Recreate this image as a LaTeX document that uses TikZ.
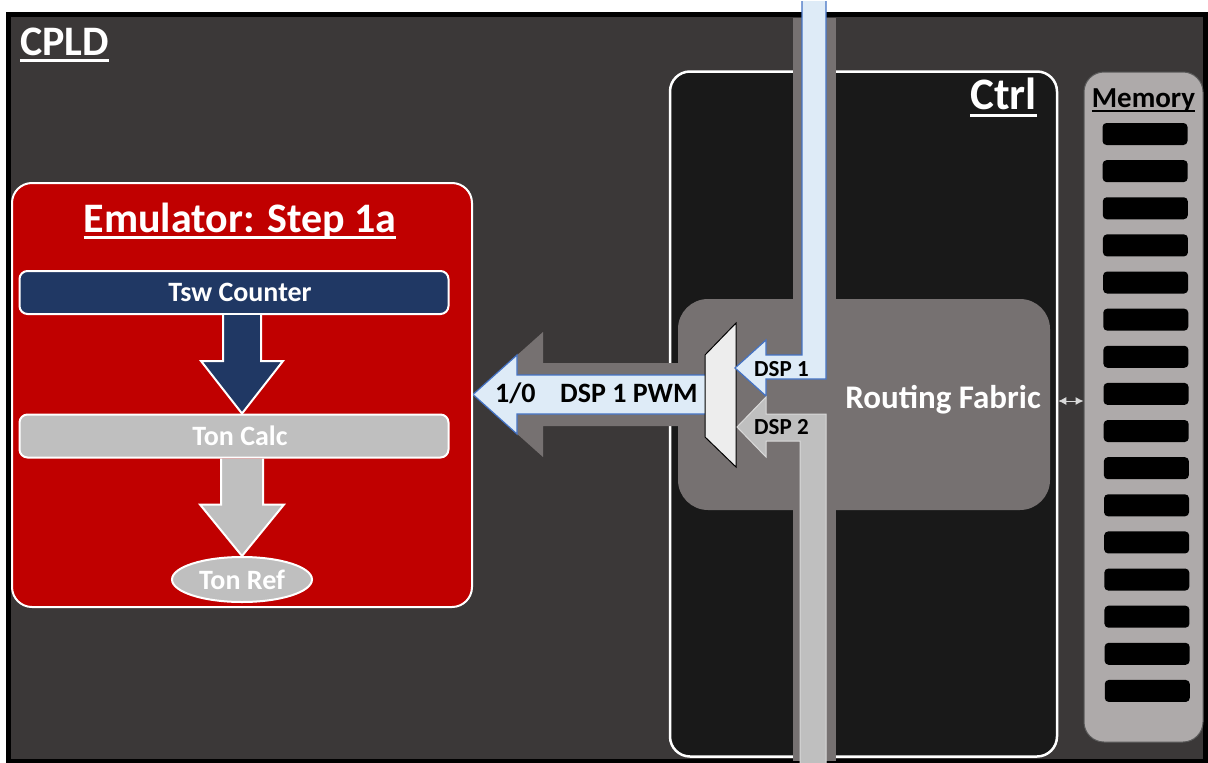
\documentclass[tikz,border=0pt]{standalone}
\usepackage{fontspec}
\setmainfont{Carlito}
\usetikzlibrary{calc,shapes.geometric,arrows.meta}

\definecolor{cpldbg}{RGB}{59,56,56}
\definecolor{ctrlbg}{RGB}{25,25,25}
\definecolor{fabric}{RGB}{118,113,113}
\definecolor{membg}{RGB}{174,170,170}
\definecolor{memedge}{RGB}{90,90,90}
\definecolor{emured}{RGB}{192,0,0}
\definecolor{tswnavy}{RGB}{32,56,100}
\definecolor{lgray}{RGB}{191,191,191}
\definecolor{edgegray}{RGB}{217,217,217}
\definecolor{lblue}{RGB}{222,235,247}
\definecolor{bblue}{RGB}{68,114,196}
\definecolor{muxgray}{RGB}{237,237,237}

\newcommand\setfs[1]{\fontsize{#1}{#1}\selectfont\bfseries}
\newcommand\ulbox[1]{\setbox0\hbox{#1}\rlap{\rule[-0.17em]{\wd0}{0.065em}}\box0}

\begin{document}
\begin{tikzpicture}[x=1pt, y=-1pt,
    panel/.style={draw=white, line width=2pt, rounded corners=20pt, inner sep=0pt},
    stage/.style={draw=white, line width=2pt, rounded corners=8pt, minimum width=429pt, minimum height=43pt, inner sep=0pt, text=white, font=\setfs{28}},
    slot/.style={fill=black, rounded corners=4pt, minimum width=85pt, minimum height=22pt, inner sep=0pt},
    heading/.style={inner sep=0pt, text=white},
    dsplbl/.style={inner sep=0pt, anchor=base west, font=\setfs{23}},
    pwmlbl/.style={inner sep=0pt, anchor=base west, font=\setfs{28}},
    bigarrow/.style={draw=white, line width=2pt}]
    \useasboundingbox (0,0) rectangle (1208,763);

    \draw[fill=cpldbg, draw=black, line width=5pt] (8.5,14.5) rectangle (1205.5,761);
    \node[heading, anchor=base west, font=\setfs{42}] (cpld) at (20,55) {\ulbox{CPLD}};

    \node[panel, fill=ctrlbg, line width=2.5pt, minimum width=387pt, minimum height=685pt] (ctrl) at (863.5,414) {};
    \node[heading, anchor=base east, font=\setfs{45}] (ctrllbl) at (1037,109) {\ulbox{Ctrl}};
    \node[panel, fill=membg, draw=memedge, line width=1pt, minimum width=119pt, minimum height=670pt] (mem) at (1143.5,407) {};
    \node[heading, text=black, anchor=base, font=\setfs{29}] (memlbl) at (1143.5,107) {\ulbox{Memory}};
    \foreach \i in {0,...,15}
        \node[slot] (slot\i) at ({1145+0.15*\i},{134+37.13*\i}) {};
    \coordinate (link) at (0,401);
    \draw[{Latex[length=8pt,width=8pt]}-{Latex[length=8pt,width=8pt]}, draw=edgegray, line width=1pt] (ctrl.east |- link) -- (mem.west |- link);

    \node[panel, draw=none, fill=fabric, rounded corners=30pt, minimum width=372pt, minimum height=211pt] (fabric) at (864,404.5) {};
    \fill[fabric] (793,18) rectangle (836,761);
    \node[heading, anchor=base, font=\setfs{33}] (fablbl) at (943,408) {Routing Fabric};

    \fill[fabric] (705,363) -- (543,363) -- (543,332) -- (473,394.5) -- (543,457) -- (543,426) -- (705,426) -- cycle;
    \draw[fill=lblue, draw=bblue, line width=1.2pt] (705,375) -- (517,375) -- (517,355) -- (473,394.5) -- (517,434) -- (517,414) -- (705,414);
    \draw[fill=muxgray, draw=black, line width=1pt] (705,355) -- (736,323) -- (736,467) -- (705,437) -- cycle;
    \draw[fill=lblue, draw=bblue, line width=1.2pt] (802,1) -- (802,355) -- (766,355) -- (766,340) -- (735,368) -- (766,396) -- (766,379) -- (826,379) -- (826,1);
    \draw[fill=lgray, draw=edgegray, line width=1pt] (826,763) -- (826,414) -- (766,414) -- (766,397) -- (737,427) -- (766,457) -- (766,441) -- (800,441) -- (800,763);
    \node[dsplbl] (dsp1) at (754,376) {DSP 1};
    \node[dsplbl] (dsp2) at (754,434) {DSP 2};
    \node[pwmlbl] (onoff) at (495,402) {1/0};
    \node[pwmlbl] (pwm) at (560,402) {DSP 1 PWM};

    \node[panel, fill=emured, minimum width=460pt, minimum height=424pt] (emu) at (242,395) {};
    \node[heading, anchor=base, font=\setfs{42}] (emulbl) at (240,232) {\ulbox{Emulator: Step 1a}};
    \node[stage, fill=tswnavy] (tsw) at (234,292.5) {\hspace*{12pt}Tsw Counter};
    \node[stage, fill=lgray] (toncalc) at (234,436) {\hspace*{12pt}Ton Calc};
    \node[draw=white, line width=2pt, fill=lgray, ellipse, minimum width=140pt, minimum height=45pt, inner sep=0pt, text=white, font=\setfs{28}] (tonref) at (242,579.5) {Ton Ref};

    \coordinate (t1) at (tsw.south -| tonref);
    \draw[bigarrow, fill=tswnavy] ($(t1)+(-19,0)$) -- ++(0,46) -- ++(-22,0) -- (toncalc.north -| tonref) -- ($(t1)+(41,46)$) -- ++(-22,0) -- ++(0,-46);
    \coordinate (t2) at (toncalc.south -| tonref);
    \draw[bigarrow, fill=lgray] ($(t2)+(-21,0)$) -- ++(0,46) -- ++(-21,0) -- (tonref.north) -- ($(t2)+(42,46)$) -- ++(-21,0) -- ++(0,-46);
\end{tikzpicture}
\end{document}
